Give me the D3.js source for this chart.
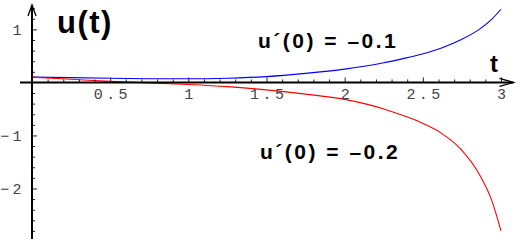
<!DOCTYPE html>
<html>
<head>
<meta charset="utf-8">
<script src="https://cdn.jsdelivr.net/npm/d3@7"></script>
<style>
  body { margin: 0; background: white; }
  svg { display: block; }
</style>
</head>
<body>
<script>
// sample times
var tValues = [0, 0.25, 0.5, 0.75, 1, 1.25, 1.5, 1.75, 2, 2.25, 2.36, 2.49, 2.62, 2.74, 2.87, 2.94, 3];
// u(t) for u'(0) = -0.1 (blue)
var uSlow = [0.10, 0.09, 0.08, 0.07, 0.068, 0.08, 0.11, 0.17, 0.25, 0.37, 0.44, 0.53, 0.65, 0.80, 1.02, 1.19, 1.38];
// u(t) for u'(0) = -0.2 (red)
var uFast = [0.10, 0.06, 0.02, -0.01, -0.04, -0.08, -0.14, -0.22, -0.32, -0.50, -0.61, -0.76, -0.96, -1.25, -1.78, -2.22, -2.8];

var xMajor = [0.5, 1, 1.5, 2, 2.5, 3];
var yMajor = [1, -1, -2];

var width = 519;
var height = 242;

var svg = d3.select("body")
            .append("svg")
            .attr("width", width)
            .attr("height", height);

// scales
var xScale = d3.scaleLinear()
               .domain([0, 3])
               .range([32, 501]);
var yScale = d3.scaleLinear()
               .domain([-2.93, 1.46])
               .range([237.8, 5]);

// minor ticks every 0.1 on t and 0.2 on u
var xMinor = d3.range(1, 31).map(function(i){ return i / 10; })
               .filter(function(v){ return Math.abs(v * 2 - Math.round(v * 2)) > 1e-6; });
var yMinor = d3.range(-14, 8).map(function(i){ return i / 5; })
               .filter(function(v){ return Math.abs(v - Math.round(v)) > 1e-6; });

var x0 = xScale(0);
var y0 = yScale(0);

// curves first, axes on top
var line = d3.line()
             .x(function(d){ return xScale(d[0]); })
             .y(function(d){ return yScale(d[1]); })
             .curve(d3.curveMonotoneX);

svg.append("path")
   .datum(tValues.map(function(t, i){ return [t, uSlow[i]]; }))
   .attr("d", line)
   .attr("fill", "none")
   .attr("stroke", "#0000ff")
   .attr("stroke-width", 1.1);

svg.append("path")
   .datum(tValues.map(function(t, i){ return [t, uFast[i]]; }))
   .attr("d", line)
   .attr("fill", "none")
   .attr("stroke", "#ff0000")
   .attr("stroke-width", 1.1);

// x axis: ticks point up, labels below
var xAxis = d3.axisBottom(xScale)
              .tickValues(xMajor)
              .tickSize(-5)
              .tickPadding(6)
              .tickFormat(function(d){ return String(d); });
var gx = svg.append("g")
            .attr("transform", "translate(0," + y0 + ")")
            .call(xAxis);
var gxMinor = svg.append("g")
                 .attr("transform", "translate(0," + y0 + ")")
                 .call(d3.axisBottom(xScale).tickValues(xMinor).tickSize(-3).tickFormat(""));

// y axis: ticks point right, labels left
var yAxis = d3.axisLeft(yScale)
              .tickValues(yMajor)
              .tickSize(-5)
              .tickPadding(7)
              .tickFormat(function(d){ return d < 0 ? "\u2212" + Math.abs(d) : String(d); });
var gy = svg.append("g")
            .attr("transform", "translate(" + x0 + ",0)")
            .call(yAxis);
var gyMinor = svg.append("g")
                 .attr("transform", "translate(" + x0 + ",0)")
                 .call(d3.axisLeft(yScale).tickValues(yMinor).tickSize(-3).tickFormat(""));

[gx, gxMinor, gy, gyMinor].forEach(function(g){
    g.select(".domain").remove();
    g.selectAll(".tick line").attr("stroke", "#222").attr("stroke-width", 1);
    g.selectAll("text")
     .attr("font-family", "'Liberation Mono', 'DejaVu Sans Mono', monospace")
     .attr("font-size", 15)
     .attr("letter-spacing", "3.4px")
     .attr("fill", "#444");
});
gx.selectAll("text").attr("dx", "1.7px");

// main axis lines with open arrowheads
var xEnd = xScale(3.08);
var yTop = yScale(1.46);
svg.append("line")
   .attr("x1", 20).attr("x2", xEnd)
   .attr("y1", y0).attr("y2", y0)
   .attr("stroke", "black").attr("stroke-width", 2);
svg.append("path")
   .attr("d", "M" + (xEnd - 14) + "," + (y0 - 4) + "L" + xEnd + "," + y0 + "L" + (xEnd - 14) + "," + (y0 + 4))
   .attr("fill", "none").attr("stroke", "black").attr("stroke-width", 1.3);
svg.append("line")
   .attr("x1", x0).attr("x2", x0)
   .attr("y1", 239).attr("y2", yTop)
   .attr("stroke", "black").attr("stroke-width", 2);
svg.append("path")
   .attr("d", "M" + (x0 - 4) + "," + (yTop + 11) + "L" + x0 + "," + yTop + "L" + (x0 + 4) + "," + (yTop + 11))
   .attr("fill", "none").attr("stroke", "black").attr("stroke-width", 1.3);

// labels
var labelFont = "'Liberation Sans', Arial, Helvetica, sans-serif";
svg.append("text")
   .attr("x", 57).attr("y", 33)
   .attr("font-family", labelFont).attr("font-weight", "bold")
   .attr("font-size", 31).attr("letter-spacing", "1.5px")
   .text("u(t)");
svg.append("text")
   .attr("x", 490).attr("y", 72)
   .attr("font-family", labelFont).attr("font-weight", "bold")
   .attr("font-size", 24)
   .text("t");
svg.append("text")
   .attr("x", 258).attr("y", 48)
   .attr("font-family", labelFont).attr("font-weight", "bold")
   .attr("font-size", 21).attr("letter-spacing", "2.5px")
   .text("u\u00B4(0) = \u20130.1");
svg.append("text")
   .attr("x", 260).attr("y", 159)
   .attr("font-family", labelFont).attr("font-weight", "bold")
   .attr("font-size", 21).attr("letter-spacing", "2.5px")
   .text("u\u00B4(0) = \u20130.2");
</script>
</body>
</html>
